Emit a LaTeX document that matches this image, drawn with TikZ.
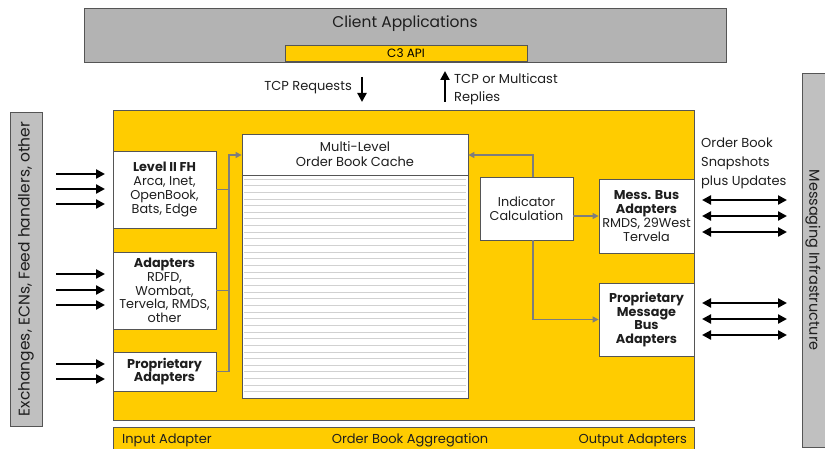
\documentclass[tikz,border=0pt]{standalone}
\usepackage{fontspec}
\setmainfont{Poppins}
\usetikzlibrary{arrows.meta,shadows}

\definecolor{cyellow}{RGB}{255,204,0}
\definecolor{clientgray}{RGB}{179,179,179}
\definecolor{sidegray}{RGB}{192,192,192}
\definecolor{linkgray}{RGB}{125,125,125}
\definecolor{edgegray}{RGB}{85,85,85}
\definecolor{inkgray}{RGB}{30,30,30}

\begin{document}
\begin{tikzpicture}[x=1pt,y=-1pt,
    panel/.style={draw=edgegray, line width=0.8pt, inner sep=0pt,
      drop shadow={shadow xshift=1.2pt, shadow yshift=-1.2pt, fill=black!65, opacity=1}},
    wbox/.style={panel, fill=white, align=center, text=inkgray,
      font=\fontsize{12.8}{13.8}\selectfont},
    txt/.style={text=inkgray, inner sep=0pt, font=\fontsize{13}{14}\selectfont},
    glink/.style={draw=linkgray, line width=1.3pt},
    garrow/.style={glink, -{Triangle[length=6pt,width=6pt]}},
    feed/.style={line width=2.6pt, -{Triangle[length=9pt,width=9pt]}},
    duplex/.style={line width=2.6pt, {Triangle[length=9pt,width=9pt]}-{Triangle[length=9pt,width=9pt]}},
    stripe/.style={draw=black!18, line width=0.8pt}]
  \useasboundingbox (0,0) rectangle (825,449);
  \clip (0,0) rectangle (825,449);

  % client side
  \node[panel, fill=clientgray, minimum width=642pt, minimum height=54pt] (client) at (405,35) {};
  \node[txt, font=\fontsize{15.5}{16}\selectfont] (clienttxt) at (405,24) {Client Applications};
  \node[panel, fill=cyellow, minimum width=242pt, minimum height=16pt, font=\fontsize{12}{12}\selectfont] (api) at (406,53) {C3 API};

  \node[txt, anchor=east] (tcpreq) at (352,88) {TCP Requests};
  \coordinate (reqtop) at (362,77);
  \coordinate (reqbot) at (362,102);
  \draw[feed] (reqtop) -- (reqbot);
  \coordinate (reptop) at (445,71);
  \coordinate (repbot) at (445,102);
  \draw[feed] (repbot) -- (reptop);
  \node[txt, anchor=north west, align=left, font=\fontsize{13}{18}\selectfont] (tcprep) at (454,73) {TCP or Multicast\\Replies};

  % side panels
  \node[panel, fill=sidegray, minimum width=32pt, minimum height=314pt] (feeds) at (26,269) {};
  \node[txt, rotate=90, font=\fontsize{15.5}{16}\selectfont] (feedstxt) at (26,269) {Exchanges, ECNs, Feed handlers, other};
  \node[panel, fill=sidegray, minimum width=24pt, minimum height=374pt] (msginf) at (814,260) {};
  \node[txt, rotate=-90, font=\fontsize{14.5}{15}\selectfont] (msginftxt) at (813,260) {Messaging Infrastructure};

  % aggregation engine
  \node[panel, fill=cyellow, minimum width=581pt, minimum height=310pt] (engine) at (403.5,265) {};
  \node[panel, fill=cyellow, minimum width=581pt, minimum height=40pt] (strip) at (403.5,447) {};
  \node[txt] (inlbl) [anchor=west] at (122,440) {Input Adapter};
  \node[txt] (agglbl) at (410,440) {Order Book Aggregation};
  \node[txt, anchor=east] (outlbl) at (687,440) {Output Adapters};

  \node[wbox, minimum width=103pt, minimum height=77pt] (lvl2) at (164.5,189.5)
    {\textbf{Level II FH}\\Arca, Inet,\\OpenBook,\\Bats, Edge};
  \node[wbox, minimum width=103pt, minimum height=77pt] (adapt) at (164.5,290.5)
    {\textbf{Adapters}\\RDFD,\\Wombat,\\Tervela, RMDS,\\other};
  \node[wbox, minimum width=103pt, minimum height=39pt] (propin) at (164.5,371.5)
    {\textbf{Proprietary}\\\textbf{Adapters}};

  \node[panel, fill=white, minimum width=226pt, minimum height=264pt] (cache) at (355,266) {};
  \foreach \i in {0,...,32}
    \draw[stripe] (244,{179+\i*6.65}) -- (466,{179+\i*6.65});
  \draw[edgegray, line width=0.8pt] (cache.west |- 0,175) -- (cache.east |- 0,175);
  \node[txt, align=center, font=\fontsize{13}{15}\selectfont] (cachetxt) at (355,154.5) {Multi-Level\\Order Book Cache};

  \node[wbox, minimum width=93pt, minimum height=63pt] (indic) at (526.5,208.5) {Indicator\\Calculation};
  \node[wbox, minimum width=95pt, minimum height=74pt] (messbus) at (646.5,216)
    {\textbf{Mess. Bus}\\\textbf{Adapters}\\RMDS, 29West\\Tervela};
  \node[wbox, minimum width=95pt, minimum height=73pt] (propout) at (646.5,319.5)
    {\textbf{Proprietary}\\\textbf{Message}\\\textbf{Bus}\\\textbf{Adapters}};

  % internal links
  \coordinate (join) at (229,155);
  \draw[glink] (lvl2.east) -- (lvl2.east -| join);
  \draw[glink] (adapt.east) -- (adapt.east -| join);
  \draw[garrow] (propin.east) -| (join) -- (cache.west |- join);
  \coordinate (fback) at (533,155);
  \draw[garrow] ([xshift=6.5pt]indic.north) -- (fback) -- (cache.east |- fback);
  \draw[garrow] (indic.east |- messbus.west) -- (messbus.west);
  \draw[garrow] ([xshift=6.5pt]indic.south) |- (propout.west);

  % feeds in
  \foreach \y in {174,189,204,274,290,305,364,379}
    \draw[feed] (56,\y) -- (105,\y);

  % updates out
  \node[txt, anchor=north west, align=left, font=\fontsize{13}{19}\selectfont] (snaptxt) at (701,138)
    {Order Book\\Snapshots\\plus Updates};
  \foreach \y in {200,216,232,303,319,335}
    \draw[duplex] (702,\y) -- (787,\y);
\end{tikzpicture}
\end{document}
